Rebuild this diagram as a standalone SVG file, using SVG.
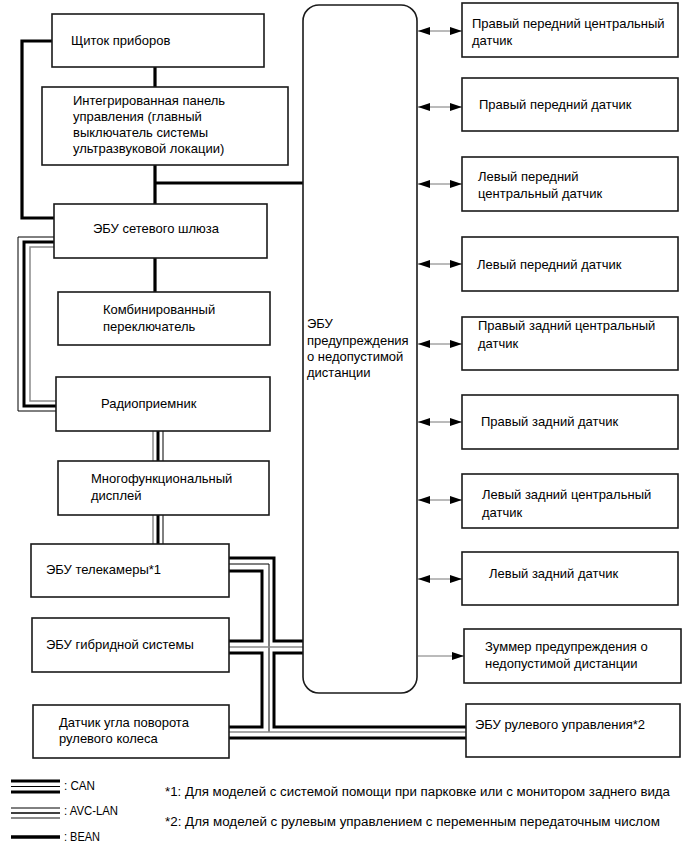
<svg xmlns="http://www.w3.org/2000/svg" width="690" height="855" viewBox="0 0 690 855">
<style>
.box{fill:#fff;stroke:#1a1a1a;stroke-width:1.6}
.t{font-family:"Liberation Sans",Arial,sans-serif;font-size:13px;fill:#000}
.lg{font-family:"Liberation Sans",Arial,sans-serif;font-size:12.5px;fill:#000}
.bean{fill:none;stroke:#000;stroke-width:3.2;stroke-linejoin:miter}
.thick{fill:none;stroke:#000;stroke-width:3}
.thin{fill:none;stroke:#000;stroke-width:1}
.gray{fill:none;stroke:#8a8a8a;stroke-width:1.5}
.arr{stroke:#777;stroke-width:1;fill:none}
</style>
<defs>
<marker id="ah" viewBox="0 0 12 8" refX="12" refY="4" markerWidth="12" markerHeight="8" markerUnits="userSpaceOnUse" orient="auto-start-reverse"><path d="M0,0 L12,4 L0,8 z" fill="#000"/></marker>
</defs>
<rect width="690" height="855" fill="#fff"/>

<g id="connectors">
  <!-- BEAN -->
  <path class="bean" d="M155,67 V87"/>
  <path class="bean" d="M155,165 V204"/>
  <path class="bean" d="M155,183 H303"/>
  <path class="bean" d="M52,41 H22 V218 H54"/>
  <path class="bean" d="M155,258 V292"/>
  <!-- AVC-LAN left loop -->
  <path class="thin" d="M54,237 H18 V411 H56"/>
  <path class="thick" d="M54,242 H24 V406 H56"/>
  <path class="gray" d="M54,247 H30 V401 H56"/>
  <!-- AVC-LAN vertical radio -> display -> camera -->
  <path class="gray" d="M153,431 V461 M153,515 V544"/>
  <path class="thick" d="M158,431 V461 M158,515 V544"/>
  <path class="thin" d="M163,431 V461 M163,515 V544"/>
  <!-- CAN -->
  <path class="thick" d="M229,558 H274 V641 H303"/>
  <path class="thick" d="M303,653 H274 V727 H466"/>
  <path class="thick" d="M229,571 H262 V641 H229"/>
  <path class="thick" d="M229,653 H262 V727 H229"/>
  <path class="thin" d="M229,564 H269 V732"/>
  <path class="gray" d="M229,647 H303"/>
  <path class="gray" d="M229,732 H466"/>
  <path class="thick" d="M229,738 H466"/>
  <!-- sensor arrows -->
  <path class="arr" d="M418,31 H462" marker-start="url(#ah)" marker-end="url(#ah)"/>
  <path class="arr" d="M418,107 H462" marker-start="url(#ah)" marker-end="url(#ah)"/>
  <path class="arr" d="M418,184 H462" marker-start="url(#ah)" marker-end="url(#ah)"/>
  <path class="arr" d="M418,264 H462" marker-start="url(#ah)" marker-end="url(#ah)"/>
  <path class="arr" d="M418,344 H462" marker-start="url(#ah)" marker-end="url(#ah)"/>
  <path class="arr" d="M418,422 H462" marker-start="url(#ah)" marker-end="url(#ah)"/>
  <path class="arr" d="M418,500 H462" marker-start="url(#ah)" marker-end="url(#ah)"/>
  <path class="arr" d="M418,579 H462" marker-start="url(#ah)" marker-end="url(#ah)"/>
  <path class="arr" d="M418,656 H464" marker-end="url(#ah)"/>
</g>

<g id="ecu-main">
  <rect class="box" x="303" y="5" width="114" height="688" rx="16" ry="16"/>
  <text class="t" x="307"><tspan x="307" y="328">ЭБУ</tspan><tspan x="307" y="345">предупреждения</tspan><tspan x="307" y="361">о недопустимой</tspan><tspan x="307" y="377">дистанции</tspan></text>
</g>

<g id="n-shchitok"><rect class="box" x="52" y="14" width="212" height="53"/><text class="t" x="71" y="45">Щиток приборов</text></g>
<g id="n-panel"><rect class="box" x="42" y="87" width="246" height="78"/><text class="t"><tspan x="73" y="105">Интегрированная панель</tspan><tspan x="73" y="121">управления (главный</tspan><tspan x="73" y="137">выключатель системы</tspan><tspan x="73" y="153">ультразвуковой локации)</tspan></text></g>
<g id="n-gateway"><rect class="box" x="54" y="204" width="213" height="54"/><text class="t" x="93" y="233">ЭБУ сетевого шлюза</text></g>
<g id="n-combo"><rect class="box" x="58" y="292" width="212" height="53"/><text class="t"><tspan x="103" y="314">Комбинированный</tspan><tspan x="103" y="331">переключатель</tspan></text></g>
<g id="n-radio"><rect class="box" x="56" y="377" width="214" height="54"/><text class="t" x="101" y="408">Радиоприемник</text></g>
<g id="n-display"><rect class="box" x="58" y="461" width="211" height="54"/><text class="t"><tspan x="91" y="483">Многофункциональный</tspan><tspan x="91" y="500">дисплей</tspan></text></g>
<g id="n-camera"><rect class="box" x="31" y="544" width="198" height="53"/><text class="t" x="46" y="574">ЭБУ телекамеры*1</text></g>
<g id="n-hybrid"><rect class="box" x="32" y="618" width="197" height="54"/><text class="t" x="46" y="649">ЭБУ гибридной системы</text></g>
<g id="n-steer-angle"><rect class="box" x="33" y="705" width="196" height="53"/><text class="t"><tspan x="59" y="727">Датчик угла поворота</tspan><tspan x="59" y="743">рулевого колеса</tspan></text></g>

<g id="n-s1"><rect class="box" x="462" y="3" width="216" height="54"/><text class="t"><tspan x="472" y="28">Правый передний центральный</tspan><tspan x="472" y="45">датчик</tspan></text></g>
<g id="n-s2"><rect class="box" x="462" y="78" width="216" height="53"/><text class="t" x="479" y="109">Правый передний датчик</text></g>
<g id="n-s3"><rect class="box" x="462" y="157" width="216" height="54"/><text class="t"><tspan x="478" y="181">Левый передний</tspan><tspan x="478" y="198">центральный датчик</tspan></text></g>
<g id="n-s4"><rect class="box" x="462" y="237" width="216" height="54"/><text class="t" x="477" y="269">Левый передний датчик</text></g>
<g id="n-s5"><rect class="box" x="462" y="317" width="216" height="53"/><text class="t"><tspan x="478" y="330">Правый задний центральный</tspan><tspan x="478" y="348">датчик</tspan></text></g>
<g id="n-s6"><rect class="box" x="462" y="395" width="216" height="54"/><text class="t" x="481" y="426">Правый задний датчик</text></g>
<g id="n-s7"><rect class="box" x="462" y="474" width="216" height="54"/><text class="t"><tspan x="482" y="499">Левый задний центральный</tspan><tspan x="482" y="517">датчик</tspan></text></g>
<g id="n-s8"><rect class="box" x="462" y="552" width="216" height="53"/><text class="t" x="489" y="578">Левый задний датчик</text></g>
<g id="n-buzzer"><rect class="box" x="464" y="629" width="217" height="54"/><text class="t"><tspan x="485" y="651">Зуммер предупреждения о</tspan><tspan x="485" y="668">недопустимой дистанции</tspan></text></g>
<g id="n-steer-ecu"><rect class="box" x="466" y="704" width="214" height="53"/><text class="t" x="475" y="729">ЭБУ рулевого управления*2</text></g>

<g id="legend">
  <path class="thick" d="M11,781 H60 M11,792 H60"/>
  <path class="thin" d="M11,786.5 H60"/>
  <text class="lg" x="64" y="790" textLength="31" lengthAdjust="spacingAndGlyphs">: CAN</text>
  <path class="thin" d="M11,808 H60"/>
  <path class="thick" d="M11,813 H60" style="stroke-width:1.6"/>
  <path class="gray" d="M11,818 H60" style="stroke-width:2"/>
  <text class="lg" x="64" y="815" textLength="54" lengthAdjust="spacingAndGlyphs">: AVC-LAN</text>
  <path class="bean" d="M11,837 H60" style="stroke-width:3.6"/>
  <text class="lg" x="64" y="841" textLength="36" lengthAdjust="spacingAndGlyphs">: BEAN</text>
  <text class="lg" x="165" y="796" textLength="505" lengthAdjust="spacingAndGlyphs">*1: Для моделей с системой помощи при парковке или с монитором заднего вида</text>
  <text class="lg" x="165" y="826" textLength="495" lengthAdjust="spacingAndGlyphs">*2: Для моделей с рулевым управлением с переменным передаточным числом</text>
</g>
</svg>
